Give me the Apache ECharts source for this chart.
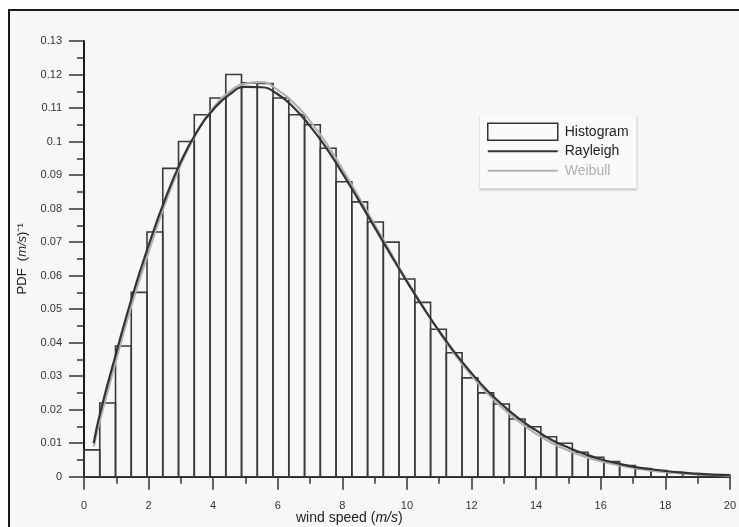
<!DOCTYPE html>
<html>
<head>
<meta charset="utf-8">
<script src="https://cdn.jsdelivr.net/npm/echarts@6/dist/echarts.min.js"></script>
<style>
  html, body { margin: 0; padding: 0; background: #ffffff; }
  #chart { width: 739px; height: 527px; }
</style>
</head>
<body>
<div id="chart"></div>
<script>
// Wind speed histogram (41 equal bins spanning 0–20 m/s), PDF per bin
const binRange = [0, 20];
const binHeights = [
  0.008, 0.022, 0.039, 0.055, 0.073, 0.092, 0.100, 0.108, 0.113, 0.120,
  0.1175, 0.1173, 0.113, 0.108, 0.105, 0.098, 0.088, 0.082, 0.076, 0.070,
  0.059, 0.052, 0.044, 0.037, 0.0295, 0.025, 0.0217, 0.0172, 0.0149, 0.0119,
  0.0100, 0.0073, 0.0058, 0.0045, 0.0033, 0.0024, 0.0018, 0.0013, 0.0009, 0.0006,
  0.0005
];

// Fitted distributions sampled along wind speed
const curveX = [
  0.3, 0.5, 1, 1.5, 2, 2.5, 3, 3.5, 4, 4.5, 5, 5.5, 6, 6.5, 7, 7.5, 8, 8.5, 9, 9.5,
  10, 10.5, 11, 11.5, 12, 12.5, 13, 13.5, 14, 14.5, 15, 15.5, 16, 16.5, 17, 17.5,
  18, 18.5, 19, 19.5, 20
];
const rayleighPdf = [
  0.010, 0.019, 0.037, 0.054, 0.069, 0.0825, 0.094, 0.103, 0.1095, 0.114,
  0.1163, 0.1162, 0.1141, 0.1101, 0.1046, 0.0981, 0.0906, 0.0826, 0.0744, 0.0662,
  0.0582, 0.0506, 0.0434, 0.0368, 0.0309, 0.0256, 0.0211, 0.0171, 0.0138, 0.0109,
  0.0087, 0.0068, 0.0052, 0.0040, 0.0030, 0.0023, 0.0017, 0.0012, 0.0009, 0.0006,
  0.0005
];
const weibullPdf = [
  0.009, 0.017, 0.035, 0.052, 0.067, 0.0812, 0.0932, 0.1028, 0.1100, 0.1148,
  0.1173, 0.1177, 0.1154, 0.1115, 0.1061, 0.0995, 0.0918, 0.0836, 0.0752, 0.0668,
  0.0585, 0.0506, 0.0431, 0.0363, 0.0302, 0.0248, 0.0202, 0.0162, 0.0128, 0.0100,
  0.0078, 0.0060, 0.0046, 0.0035, 0.0026, 0.0019, 0.0014, 0.0010, 0.0007, 0.0005,
  0.0003
];

const seriesNames = ['Histogram', 'Rayleigh', 'Weibull'];

const binW = (binRange[1] - binRange[0]) / binHeights.length;
const histData = binHeights.map((h, i) => [binRange[0] + i * binW, binRange[0] + (i + 1) * binW, h]);

const FONT = '"Liberation Sans", Arial, sans-serif';
const LINE_ICON = 'path://M0,0 L70,0 L70,2 L0,2 Z';
const chart = echarts.init(document.getElementById('chart'), null, { renderer: 'canvas' });

chart.setOption({
  backgroundColor: '#ffffff',
  animation: false,
  textStyle: { fontFamily: FONT },
  graphic: [
    {
      type: 'rect', z: -10, silent: true,
      shape: { x: 9, y: 10, width: 760, height: 540 },
      style: { fill: '#f7f7f7', stroke: '#1a1a1a', lineWidth: 2 }
    },
    {
      type: 'text', z: 10,
      left: 296, top: 511,
      style: {
        text: '{n|wind speed (}{i|m/s}{n|)}',
        rich: {
          n: { fontSize: 14, fontFamily: FONT, fill: '#222' },
          i: { fontSize: 14, fontFamily: FONT, fontStyle: 'italic', fill: '#222' }
        }
      }
    }
  ],
  legend: {
    orient: 'vertical',
    left: 480, top: 115,
    padding: [7, 8, 8, 7],
    itemWidth: 70, itemHeight: 17, itemGap: 0,
    backgroundColor: '#fafafa',
    shadowColor: 'rgba(0,0,0,0.25)', shadowBlur: 2, shadowOffsetY: 1,
    textStyle: { fontSize: 14, lineHeight: 19.5, fontFamily: FONT, color: '#222', padding: [0, 0, 0, 2] },
    data: [
      { name: seriesNames[0], icon: 'rect',
        itemStyle: { color: 'rgba(0,0,0,0)', borderColor: '#333', borderWidth: 1.5 } },
      { name: seriesNames[1], icon: LINE_ICON, itemStyle: { color: '#333' } },
      { name: seriesNames[2], icon: LINE_ICON, itemStyle: { color: '#b0b0b0' },
        textStyle: { color: '#b0b0b0' } }
    ]
  },
  grid: { left: 84, top: 41, width: 656, height: 435.7, containLabel: false },
  xAxis: {
    type: 'value', min: 0, max: 20, interval: 2,
    axisLine: { show: true, onZero: false, lineStyle: { color: '#1a1a1a', width: 2 } },
    axisTick: { show: true, length: 13, lineStyle: { color: '#333', width: 1.5 } },
    minorTick: { show: true, splitNumber: 2, length: 7, lineStyle: { color: '#333', width: 1.5 } },
    axisLabel: { color: '#333', fontSize: 11, margin: 24, fontFamily: FONT },
    splitLine: { show: false }
  },
  yAxis: {
    type: 'value', min: 0, max: 0.13, interval: 0.01,
    name: '{n|PDF  (}{i|m/s}{n|)⁻¹}',
    nameLocation: 'middle', nameRotate: 90, nameGap: 55,
    nameTextStyle: {
      rich: {
        n: { fontSize: 13, fontFamily: FONT, color: '#222' },
        i: { fontSize: 13, fontFamily: FONT, fontStyle: 'italic', color: '#222' }
      }
    },
    axisLine: { show: true, lineStyle: { color: '#1a1a1a', width: 2 } },
    axisTick: { show: true, length: 15, lineStyle: { color: '#333', width: 1.5 } },
    minorTick: { show: true, splitNumber: 2, length: 7, lineStyle: { color: '#333', width: 1.5 } },
    axisLabel: { color: '#333', fontSize: 11, margin: 22, fontFamily: FONT },
    splitLine: { show: false }
  },
  series: [
    {
      name: seriesNames[0],
      type: 'custom',
      z: 2,
      itemStyle: { color: 'rgba(0,0,0,0)', borderColor: '#333', borderWidth: 1.5 },
      encode: { x: [0, 1], y: 2 },
      data: histData,
      renderItem: function (params, api) {
        const p0 = api.coord([api.value(0), 0]);
        const p1 = api.coord([api.value(1), api.value(2)]);
        return {
          type: 'rect',
          shape: { x: p0[0], y: p1[1], width: p1[0] - p0[0], height: p0[1] - p1[1] },
          style: { fill: 'none', stroke: '#3a3a3a', lineWidth: 1.6 }
        };
      }
    },
    {
      name: seriesNames[2],
      type: 'line',
      z: 3,
      smooth: true,
      showSymbol: false,
      symbol: 'none',
      color: '#b0b0b0',
      lineStyle: { color: '#b0b0b0', width: 2.2 },
      data: curveX.map((x, i) => [x, weibullPdf[i]])
    },
    {
      name: seriesNames[1],
      type: 'line',
      z: 4,
      smooth: true,
      showSymbol: false,
      symbol: 'none',
      color: '#333',
      lineStyle: { color: '#333', width: 2.2 },
      data: curveX.map((x, i) => [x, rayleighPdf[i]])
    }
  ]
});
</script>
</body>
</html>
